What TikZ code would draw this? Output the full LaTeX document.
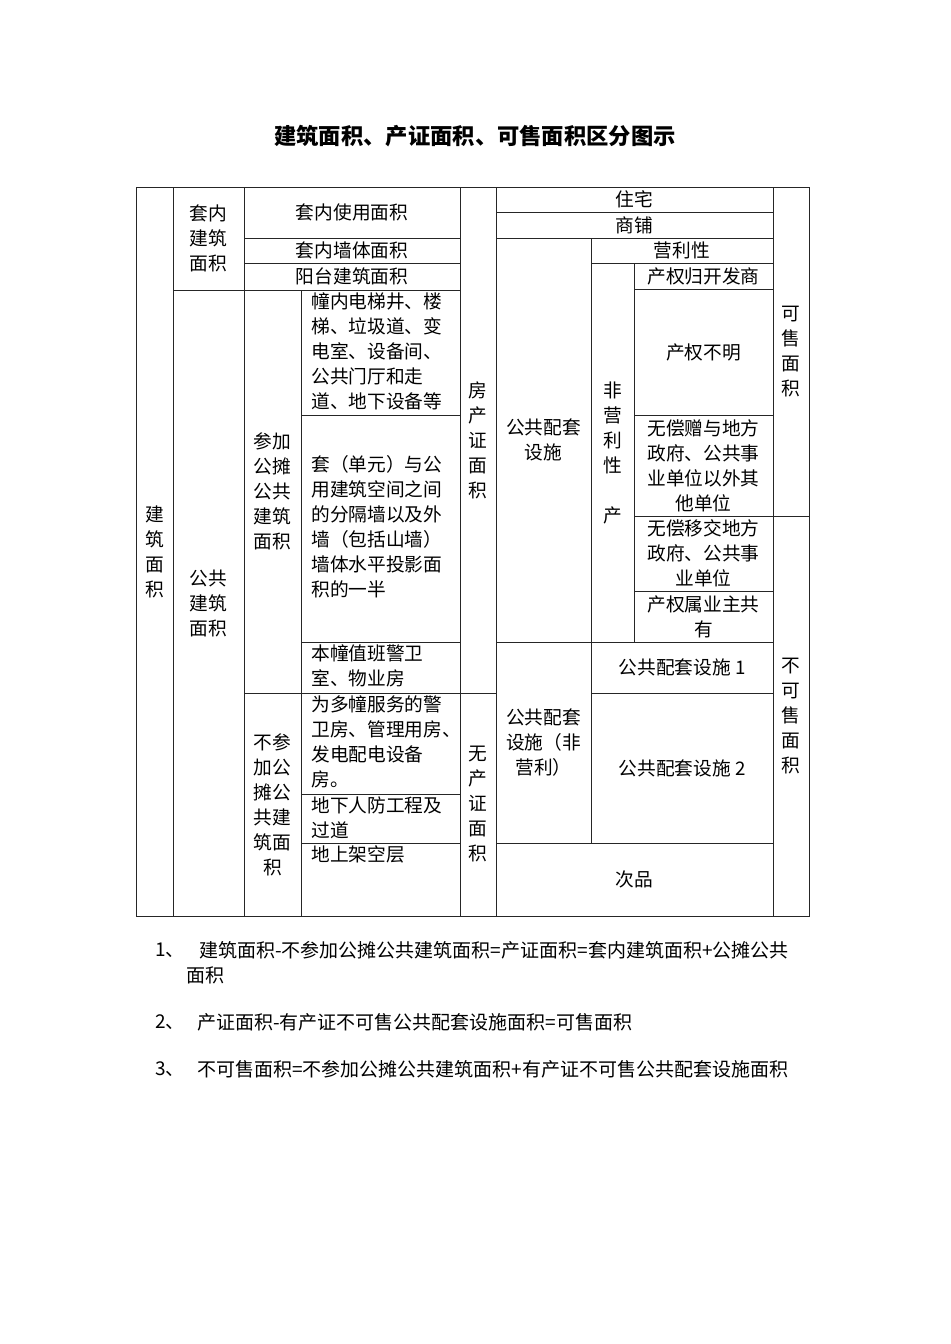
\documentclass[tikz,border=0pt]{standalone}
\usepackage{fontspec}
\setmainfont{Noto Sans CJK SC}
\usepackage{tikz}

\newcommand\tbl{\fontsize{9.35pt}{12.5pt}\selectfont}

\tikzset{
	cell/.style={align=center, inner sep=0pt, font=\tbl},
	topcell/.style={align=left, inner sep=0pt, anchor=north west, font=\tbl},
	midcell/.style={align=left, inner sep=0pt, anchor=west, font=\tbl},
	note/.style={anchor=west, inner sep=0pt, font=\fontsize{9.5pt}{12.5pt}\selectfont},
	grid/.style={line width=0.5pt, draw=black!85},
}

\begin{document}
\begin{tikzpicture}[x=0.5pt, y=-0.5pt]
	\useasboundingbox (0,0) rectangle (950,1344);
	\node[font=\fontsize{11.15pt}{13pt}\selectfont\bfseries] (title) at (475,136) {建筑面积、产证面积、可售面积区分图示};
	% cells with centred text
	\foreach \n/\xa/\ya/\xb/\yb/\txt in {
		jzmj/136/187/173/916/{建\\筑\\面\\积},
		tnjz/173/187/244/290/{套内\\建筑\\面积},
		ggjz/173/290/244/916/{公共\\建筑\\面积},
		tnsy/244/187/460/238/{套内使用面积},
		tnqt/244/238/460/263/{套内墙体面积},
		ytjz/244/263/460/290/{阳台建筑面积},
		cjgt/244/290/301/693/{参加\\公摊\\公共\\建筑\\面积},
		bcgt/244/693/301/916/{不参\\加公\\摊公\\共建\\筑面\\积},
		fczm/460/187/496/693/{房\\产\\证\\面\\积},
		wczm/460/693/496/916/{无\\产\\证\\面\\积},
		zhz/496/187/773/212/{住宅},
		shp/496/212/773/238/{商铺},
		ggpt/496/238/591/642/{公共配套\\设施},
		ylx/591/238/773/263/{营利性},
		fylx/591/263/634/642/{非\\营\\利\\性\\~\\产},
		kfs/634/263/773/289/{产权归开发商},
		cqbm/634/289/773/415/{产权不明},
		wczy/634/415/773/516/{无偿赠与地方\\政府、公共事\\业单位以外其\\他单位},
		wcyj/634/516/773/591/{无偿移交地方\\政府、公共事\\业单位},
		yzgy/634/591/773/642/{产权属业主共\\有},
		ggfy/496/642/591/843/{公共配套\\设施（非\\营利）},
		ggpa/591/642/773/693/{公共配套设施 1},
		ggpb/591/693/773/843/{公共配套设施 2},
		cip/496/843/773/916/{次品},
		ksmj/773/187/809/516/{可\\售\\面\\积},
		bksm/773/516/809/916/{不\\可\\售\\面\\积}} {
		\draw[grid] (\xa,\ya) rectangle (\xb,\yb);
		\node[cell] (\n) at ({(\xa+\xb)/2},{(\ya+\yb)/2}) {\txt};
	}
	% cells with text from the top left
	\foreach \n/\ya/\yb/\txt in {
		dndt/290/415/{幢内电梯井、楼\\梯、垃圾道、变\\电室、设备间、\\公共门厅和走\\道、地下设备等},
		zbzb/642/693/{本幢值班警卫\\室、物业房},
		ddfw/693/794/{为多幢服务的警\\卫房、管理用房、\\发电配电设备\\房。},
		rfgc/794/843/{地下人防工程及\\过道},
		jkc/843/916/{地上架空层}} {
		\draw[grid] (301,\ya) rectangle (460,\yb);
		\node[topcell] (\n) at (311,\ya+2) {\txt};
	}
	\draw[grid] (301,415) rectangle (460,642);
	\node[midcell] (fgq) at (311,527) {套（单元）与公\\用建筑空间之间\\的分隔墙以及外\\墙（包括山墙）\\墙体水平投影面\\积的一半};
	% notes
	\node[note] (no1) at (155,950) {1、};
	\node[note] (tx1) at (199,950) {建筑面积-不参加公摊公共建筑面积=产证面积=套内建筑面积+公摊公共};
	\node[note] (tx1b) at (186,975) {面积};
	\node[note] (no2) at (155,1022) {2、};
	\node[note] (tx2) at (197,1022) {产证面积-有产证不可售公共配套设施面积=可售面积};
	\node[note] (no3) at (155,1069) {3、};
	\node[note] (tx3) at (197,1069) {不可售面积=不参加公摊公共建筑面积+有产证不可售公共配套设施面积};
\end{tikzpicture}
\end{document}
